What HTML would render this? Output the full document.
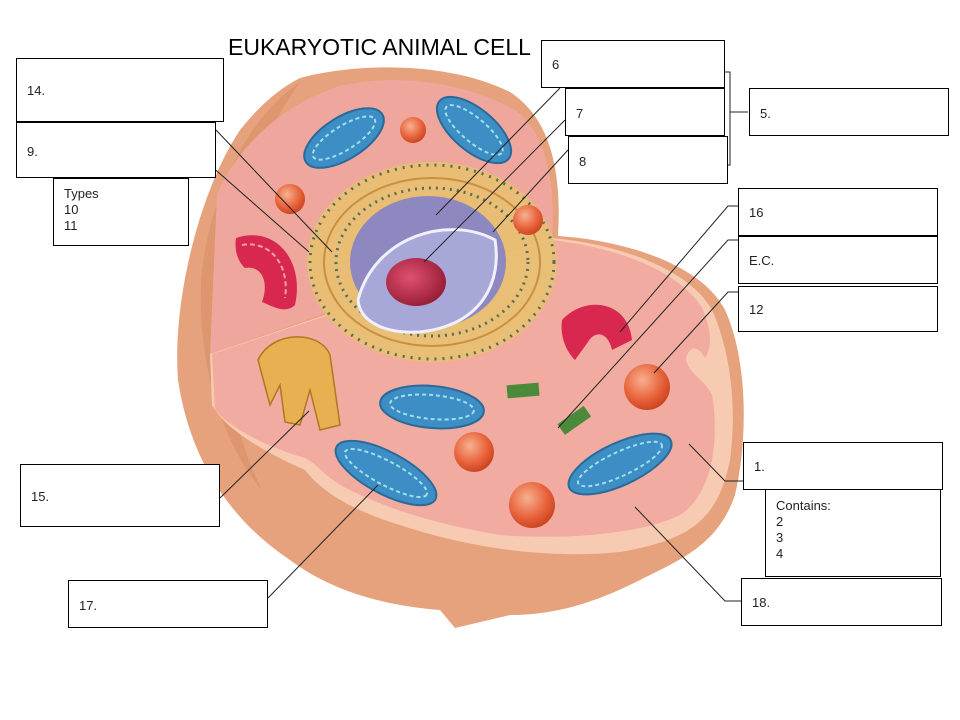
<!DOCTYPE html>
<html><head><meta charset="utf-8"><style>
html,body{margin:0;padding:0;background:#fff;}
body{width:960px;height:720px;position:relative;overflow:hidden;font-family:"Liberation Sans",sans-serif;}
.b{position:absolute;background:#fff;border:1px solid #000;box-sizing:border-box;font-size:13px;color:#222;padding:0 0 0 10px;line-height:16px;}
svg{position:absolute;left:0;top:0;}
</style></head><body>
<svg width="960" height="720" viewBox="0 0 960 720">
<defs>
<radialGradient id="sp" cx="0.4" cy="0.35" r="0.7"><stop offset="0" stop-color="#f8b090"/><stop offset="0.6" stop-color="#e8643c"/><stop offset="1" stop-color="#c8401c"/></radialGradient>
<radialGradient id="nuc" cx="0.4" cy="0.4" r="0.7"><stop offset="0" stop-color="#e05070"/><stop offset="1" stop-color="#901830"/></radialGradient>
</defs>
<path d="M300 78 C360 62 450 62 510 92 C550 118 562 170 558 236 C620 240 700 262 725 310 C748 360 748 440 735 495 C718 545 680 560 640 580 C600 600 560 615 510 615 L455 628 L440 610 C380 605 330 590 290 560 C230 520 190 460 178 380 C172 300 200 190 240 130 C260 105 280 88 300 78Z" fill="#e6a27c"/>
<path d="M300 82 C250 115 212 190 202 270 C196 340 212 430 262 490 C232 430 218 350 226 270 C236 190 270 125 300 82Z" fill="#d88e66" opacity="0.6"/>
<path d="M217 195 C235 150 280 105 340 86 C400 72 470 84 515 110 C545 132 556 180 552 238 L359 301 L210 354 Z" fill="#efa79d"/>
<path d="M210 354 L552 238 C620 244 690 270 712 310 C728 345 738 400 730 460 C718 520 690 540 620 552 C540 560 460 545 400 525 C350 510 320 490 305 470 C270 455 225 430 212 405 Z" fill="#f6cbb2"/>
<path d="M212 354 L552 240 C620 248 680 272 702 308 C712 330 712 348 705 358 C698 345 688 345 686 360 C690 375 705 380 712 395 C720 440 712 495 680 515 C640 535 560 540 500 535 C440 525 390 510 350 490 C325 478 320 466 305 458 C270 448 232 430 215 410 Z" fill="#f2aba0"/>
<ellipse cx="432" cy="262" rx="125" ry="100" fill="#e8c070" opacity="0.9"/>
<ellipse cx="432" cy="262" rx="122" ry="97" fill="none" stroke="#2a5a5a" stroke-width="3" stroke-dasharray="2 6" opacity="0.8"/>
<ellipse cx="432" cy="262" rx="108" ry="84" fill="none" stroke="#c89040" stroke-width="2"/>
<ellipse cx="432" cy="262" rx="96" ry="74" fill="none" stroke="#2a5a5a" stroke-width="3" stroke-dasharray="2 5" opacity="0.8"/>
<ellipse cx="428" cy="262" rx="78" ry="66" fill="#8e88c0"/>
<path d="M358 300 C375 235 450 215 495 240 C502 282 482 325 420 332 C385 334 360 322 358 300Z" fill="#a8a8d8" stroke="#f0f0ff" stroke-width="3"/>
<ellipse cx="416" cy="282" rx="30" ry="24" fill="url(#nuc)"/>
<g fill="#3c8ec4" stroke="#2a6a9a" stroke-width="2">
<ellipse cx="344" cy="138" rx="45" ry="21" transform="rotate(-32 344 138)"/>
<ellipse cx="474" cy="130" rx="45" ry="21" transform="rotate(40 474 130)"/>
<ellipse cx="432" cy="407" rx="52" ry="21" transform="rotate(5 432 407)"/>
<ellipse cx="386" cy="473" rx="56" ry="21" transform="rotate(28 386 473)"/>
<ellipse cx="620" cy="464" rx="56" ry="21" transform="rotate(-25 620 464)"/>
</g>
<g fill="none" stroke="#9de0f0" stroke-width="2" stroke-dasharray="4 3">
<ellipse cx="344" cy="138" rx="36" ry="12" transform="rotate(-32 344 138)"/>
<ellipse cx="474" cy="130" rx="36" ry="12" transform="rotate(40 474 130)"/>
<ellipse cx="432" cy="407" rx="42" ry="12" transform="rotate(5 432 407)"/>
<ellipse cx="386" cy="473" rx="46" ry="12" transform="rotate(28 386 473)"/>
<ellipse cx="620" cy="464" rx="46" ry="12" transform="rotate(-25 620 464)"/>
</g>
<circle cx="413" cy="130" r="13" fill="url(#sp)"/>
<circle cx="290" cy="199" r="15" fill="url(#sp)"/>
<circle cx="528" cy="220" r="15" fill="url(#sp)"/>
<circle cx="647" cy="387" r="23" fill="url(#sp)"/>
<circle cx="474" cy="452" r="20" fill="url(#sp)"/>
<circle cx="532" cy="505" r="23" fill="url(#sp)"/>
<path d="M236 238 C275 225 305 260 295 305 C285 315 270 305 262 302 C270 280 260 265 245 268 C238 262 234 250 236 238Z" fill="#d82850"/>
<path d="M242 245 C270 240 290 265 285 298" fill="none" stroke="#f0a0b0" stroke-width="2" stroke-dasharray="5 3"/>
<path d="M562 320 C585 295 628 300 632 340 L612 350 C608 332 595 330 588 342 L575 360 C565 350 560 335 562 320Z" fill="#d82850"/>
<path d="M258 360 C272 330 320 330 330 355 L340 425 L320 430 L310 390 L300 425 L285 422 L280 385 L270 405 Z" fill="#e8b050" stroke="#b07820" stroke-width="1.5"/>
<rect x="507" y="384" width="32" height="13" fill="#4a8a3a" transform="rotate(-5 523 390)"/>
<rect x="558" y="414" width="32" height="13" fill="#4a8a3a" transform="rotate(-35 574 420)"/>
<g stroke="#222" stroke-width="1" fill="none">
<polyline points="725,72 730,72 730,165 728,165"/>
<polyline points="730,112 748,112"/>
<line x1="216" y1="130" x2="332" y2="252"/>
<line x1="210" y1="165" x2="309" y2="252"/>
<line x1="560" y1="88" x2="436" y2="215"/>
<line x1="565" y1="120" x2="424" y2="262"/>
<line x1="568" y1="150" x2="493" y2="232"/>
<polyline points="738,206 728,206 620,332"/>
<polyline points="738,240 728,240 558,428"/>
<polyline points="738,292 728,292 654,373"/>
<polyline points="743,481 725,481 689,444"/>
<polyline points="741,601 725,601 635,507"/>
<line x1="220" y1="498" x2="309" y2="411"/>
<line x1="268" y1="598" x2="378" y2="485"/>
</g>
<text x="228" y="55" font-family="Liberation Sans, sans-serif" font-size="23" fill="#000">EUKARYOTIC ANIMAL CELL</text>
</svg>
<div class="b" style="left:16px;top:58px;width:208px;height:64px;padding-top:24px">14.</div>
<div class="b" style="left:16px;top:122px;width:200px;height:56px;padding-top:21px">9.</div>
<div class="b" style="left:53px;top:178px;width:136px;height:68px;padding-top:7px">Types<br>10<br>11</div>
<div class="b" style="left:541px;top:40px;width:184px;height:48px;padding-top:16px">6</div>
<div class="b" style="left:565px;top:88px;width:160px;height:48px;padding-top:17px">7</div>
<div class="b" style="left:568px;top:136px;width:160px;height:48px;padding-top:17px">8</div>
<div class="b" style="left:749px;top:88px;width:200px;height:48px;padding-top:17px">5.</div>
<div class="b" style="left:738px;top:188px;width:200px;height:48px;padding-top:16px">16</div>
<div class="b" style="left:738px;top:236px;width:200px;height:48px;padding-top:16px">E.C.</div>
<div class="b" style="left:738px;top:286px;width:200px;height:46px;padding-top:15px">12</div>
<div class="b" style="left:743px;top:442px;width:200px;height:48px;padding-top:16px">1.</div>
<div class="b" style="left:765px;top:489px;width:176px;height:88px;padding-top:8px">Contains:<br>2<br>3<br>4</div>
<div class="b" style="left:741px;top:578px;width:201px;height:48px;padding-top:16px">18.</div>
<div class="b" style="left:20px;top:464px;width:200px;height:63px;padding-top:24px">15.</div>
<div class="b" style="left:68px;top:580px;width:200px;height:48px;padding-top:17px">17.</div>
</body></html>
